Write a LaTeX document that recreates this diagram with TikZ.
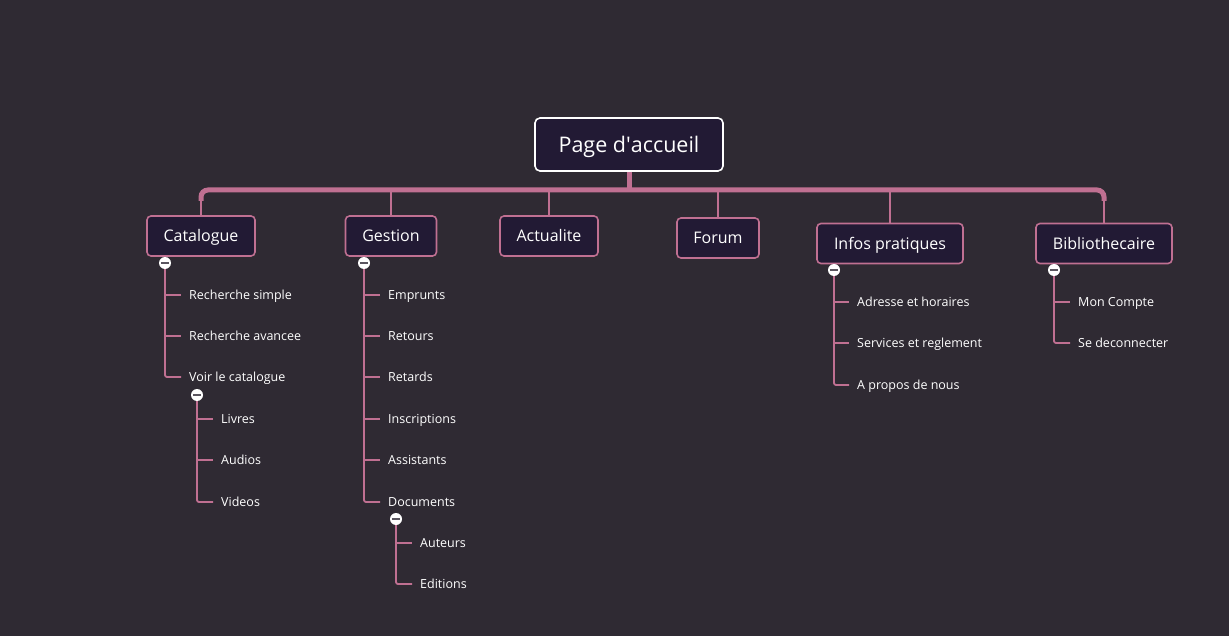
\documentclass[tikz,border=0pt]{standalone}
\usepackage{fontspec}
\setmainfont{Open Sans}
\definecolor{bg}{RGB}{47,42,51}
\definecolor{nodefill}{RGB}{34,26,52}
\definecolor{pinkline}{RGB}{192,112,146}
\definecolor{knob}{RGB}{90,85,95}
\begin{document}
\begin{tikzpicture}[x=1pt,y=-1pt,
  rootbox/.style={draw=white, line width=1.6pt, fill=nodefill, rounded corners=5pt, text=white,
    font=\fontsize{21.5}{25}\selectfont, minimum width=188pt, minimum height=53pt, inner sep=0pt,
    text height=15.5pt, text depth=0pt},
  topic/.style={draw=pinkline, line width=1.6pt, fill=nodefill, rounded corners=4pt, text=white,
    font=\fontsize{16}{19}\selectfont, minimum height=40pt, inner sep=0pt,
    text height=11.5pt, text depth=0pt},
  leaf/.style={anchor=west, text=white, font=\fontsize{12.5}{15}\selectfont, inner xsep=8pt, inner ysep=0pt,
    text height=9pt, text depth=0pt},
  collapse/.style={circle, fill=white, minimum size=12pt, inner sep=0pt,
    path picture={\draw[knob, line width=1.6pt] ([xshift=2pt]path picture bounding box.west) -- ([xshift=-2pt]path picture bounding box.east);}},
  trunk/.style={draw=pinkline, line width=5pt},
  drop/.style={draw=pinkline, line width=2.6pt},
  branch/.style={draw=pinkline, line width=1.8pt, rounded corners=2pt}
]
\fill[bg] (0,0) rectangle (1229,636);
\useasboundingbox (0,0) rectangle (1229,636);

% root
\node[rootbox] (root) at (629,144.5) {Page d\textquotesingle accueil};

% topics
\node[topic, minimum width=108pt] (cat) at (201,236) {Catalogue};
\node[topic, minimum width=91pt]  (ges) at (391,236) {Gestion};
\node[topic, minimum width=98pt]  (act) at (549,236) {Actualite};
\node[topic, minimum width=82pt]  (for) at (718,238) {Forum};
\node[topic, minimum width=146pt] (inf) at (890,243.5) {Infos pratiques};
\node[topic, minimum width=136pt] (bib) at (1104,243.5) {Bibliothecaire};

% trunk
\coordinate (rootbar) at (629,190);
\coordinate (dL) at (201,201);
\coordinate (dR) at (1104,201);
\coordinate (bGes) at (391,190);
\coordinate (bAct) at (549,190);
\coordinate (bFor) at (718,190);
\coordinate (bInf) at (890,190);
\draw[trunk] (root.south) -- (rootbar);
\draw[trunk, rounded corners=7pt] (dL) -- (201,190) -- (1104,190) -- (dR);
\draw[drop] (dL) -- (cat.north);
\draw[drop] (dR) -- (bib.north);
\draw[drop] (bGes) -- (ges.north);
\draw[drop] (bAct) -- (act.north);
\draw[drop] (bFor) -- (for.north);
\draw[drop] (bInf) -- (inf.north);

% Catalogue
\node[collapse] (cc) at (165,263) {};
\node[leaf] (c1) at (181,295) {Recherche simple};
\node[leaf] (c2) at (181,336) {Recherche avancee};
\node[leaf] (c3) at (181,377) {Voir le catalogue};
\draw[branch] (cc.south) |- (c3.west);
\draw[branch] (cc.south |- c1.west) -- (c1.west);
\draw[branch] (cc.south |- c2.west) -- (c2.west);

\node[collapse] (vc) at (197,395) {};
\node[leaf] (v1) at (213,419) {Livres};
\node[leaf] (v2) at (213,460) {Audios};
\node[leaf] (v3) at (213,502) {Videos};
\draw[branch] (vc.south) |- (v3.west);
\draw[branch] (vc.south |- v1.west) -- (v1.west);
\draw[branch] (vc.south |- v2.west) -- (v2.west);

% Gestion
\node[collapse] (gc) at (364,263) {};
\node[leaf] (g1) at (380,295) {Emprunts};
\node[leaf] (g2) at (380,336) {Retours};
\node[leaf] (g3) at (380,377) {Retards};
\node[leaf] (g4) at (380,419) {Inscriptions};
\node[leaf] (g5) at (380,460) {Assistants};
\node[leaf] (g6) at (380,502) {Documents};
\draw[branch] (gc.south) |- (g6.west);
\foreach \n in {g1,g2,g3,g4,g5} \draw[branch] (gc.south |- \n.west) -- (\n.west);

\node[collapse] (dc) at (396,519) {};
\node[leaf] (d1) at (412,543) {Auteurs};
\node[leaf] (d2) at (412,584) {Editions};
\draw[branch] (dc.south) |- (d2.west);
\draw[branch] (dc.south |- d1.west) -- (d1.west);

% Infos pratiques
\node[collapse] (ic) at (834,270) {};
\node[leaf] (i1) at (849,302) {Adresse et horaires};
\node[leaf] (i2) at (849,343) {Services et reglement};
\node[leaf] (i3) at (849,385) {A propos de nous};
\draw[branch] (ic.south) |- (i3.west);
\draw[branch] (ic.south |- i1.west) -- (i1.west);
\draw[branch] (ic.south |- i2.west) -- (i2.west);

% Bibliothecaire
\node[collapse] (bc) at (1054,270) {};
\node[leaf] (b1) at (1070,302) {Mon Compte};
\node[leaf] (b2) at (1070,343) {Se deconnecter};
\draw[branch] (bc.south) |- (b2.west);
\draw[branch] (bc.south |- b1.west) -- (b1.west);
\end{tikzpicture}
\end{document}
